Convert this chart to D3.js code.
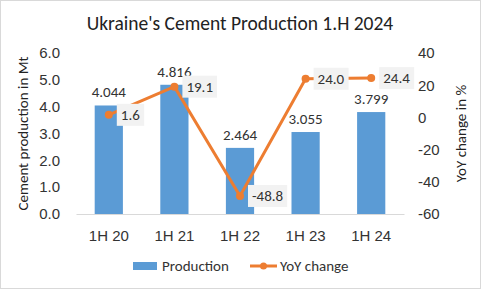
<!DOCTYPE html>
<html>
<head>
<meta charset="utf-8">
<script src="https://cdn.jsdelivr.net/npm/d3@7"></script>
<style>
  body { margin: 0; background: #fff; }
  svg { font-family: Carlito, Calibri, "Open Sans", sans-serif; }
</style>
</head>
<body>
<div id="chart"></div>
<script>
// Data
var categories = ["1H 20", "1H 21", "1H 22", "1H 23", "1H 24"];
var production = [4.044, 4.816, 2.464, 3.055, 3.799];
var yoyChange = [1.6, 19.1, -48.8, 24.0, 24.4];
var leftTicks = [0, 1, 2, 3, 4, 5, 6];
var rightTicks = [-60, -40, -20, 0, 20, 40];

var width = 481, height = 289;
var blue = "#5b9bd5", orange = "#ed7d31";
var plot = { left: 76, right: 404, top: 53, bottom: 214 };
var fs = 15;

// plain hyphen for negatives, like the original
var locale = d3.formatLocale({ decimal: ".", thousands: ",", grouping: [3], currency: ["", ""], minus: "-" });

var svg = d3.select("#chart").append("svg")
  .attr("width", width)
  .attr("height", height);

// chart border
svg.append("rect")
  .attr("x", 0.5).attr("y", 0.5)
  .attr("width", width - 1).attr("height", height - 1)
  .attr("fill", "#fff").attr("stroke", "#d9d9d9");

// Scales
var x = d3.scaleBand()
  .domain(categories)
  .range([plot.left, plot.right])
  .paddingInner(0.57)
  .paddingOuter(0.285);

var yLeft = d3.scaleLinear().domain([0, 6]).range([plot.bottom, plot.top]);
var yRight = d3.scaleLinear().domain([-60, 40]).range([plot.bottom, plot.top]);

// title
svg.append("text")
  .attr("x", 240).attr("y", 30)
  .attr("text-anchor", "middle")
  .attr("font-size", 19.5)
  .attr("fill", "#222")
  .text("Ukraine's Cement Production 1.H 2024");

// left axis
var leftAxis = svg.append("g")
  .attr("transform", "translate(" + plot.left + ",0)")
  .call(d3.axisLeft(yLeft).tickValues(leftTicks).tickFormat(locale.format(".1f")).tickSize(0).tickPadding(16));
leftAxis.select(".domain").remove();

// right axis
var rightAxis = svg.append("g")
  .attr("transform", "translate(" + plot.right + ",0)")
  .call(d3.axisRight(yRight).tickValues(rightTicks).tickFormat(locale.format("d")).tickSize(0).tickPadding(14));
rightAxis.select(".domain").remove();

// x axis
var xAxis = svg.append("g")
  .attr("transform", "translate(0," + plot.bottom + ")")
  .call(d3.axisBottom(x).tickSize(0).tickPadding(16));
xAxis.select(".domain").attr("stroke", "#d9d9d9");

svg.selectAll(".tick text")
  .attr("font-size", fs)
  .attr("fill", "#333")
  .attr("font-family", null);

// axis titles
svg.append("text")
  .attr("transform", "translate(28," + (plot.top + plot.bottom) / 2 + ") rotate(-90)")
  .attr("text-anchor", "middle")
  .attr("font-size", fs)
  .attr("fill", "#222")
  .text("Cement production in Mt");

svg.append("text")
  .attr("transform", "translate(466," + (plot.top + plot.bottom) / 2 + ") rotate(-90)")
  .attr("text-anchor", "middle")
  .attr("font-size", fs)
  .attr("fill", "#222")
  .text("YoY change in %");

// bars
svg.selectAll(".bar")
  .data(production)
  .enter().append("rect")
  .attr("class", "bar")
  .attr("x", (d, i) => x(categories[i]))
  .attr("y", d => yLeft(d))
  .attr("width", x.bandwidth())
  .attr("height", d => yLeft(0) - yLeft(d))
  .attr("fill", blue);

svg.selectAll(".barLabel")
  .data(production)
  .enter().append("text")
  .attr("class", "barLabel")
  .attr("x", (d, i) => x(categories[i]) + x.bandwidth() / 2)
  .attr("y", d => yLeft(d) - 8)
  .attr("text-anchor", "middle")
  .attr("font-size", fs)
  .attr("fill", "#333")
  .text(locale.format(".3f"));

// line
var cx = (d, i) => x(categories[i]) + x.bandwidth() / 2;
var line = d3.line()
  .x(cx)
  .y(d => yRight(d));

svg.append("path")
  .datum(yoyChange)
  .attr("d", line)
  .attr("fill", "none")
  .attr("stroke", orange)
  .attr("stroke-width", 3);

svg.selectAll(".pt")
  .data(yoyChange)
  .enter().append("circle")
  .attr("class", "pt")
  .attr("cx", cx)
  .attr("cy", d => yRight(d))
  .attr("r", 4)
  .attr("fill", orange);

// line labels with grey background
var lbl = svg.selectAll(".lineLabel")
  .data(yoyChange)
  .enter().append("g")
  .attr("class", "lineLabel")
  .attr("transform", (d, i) => "translate(" + (cx(d, i) + 8) + "," + yRight(d) + ")");

lbl.append("text")
  .attr("x", 4)
  .attr("y", 5)
  .attr("font-size", fs)
  .attr("fill", "#333")
  .text(locale.format(".1f"));

lbl.each(function() {
  var g = d3.select(this);
  var b = g.select("text").node().getBBox();
  g.insert("rect", "text")
    .attr("x", 0)
    .attr("y", -11)
    .attr("width", b.width + 8)
    .attr("height", 22)
    .attr("fill", "#f2f2f2");
});

// legend
var legend = svg.append("g").attr("transform", "translate(0,266)");
legend.append("rect")
  .attr("x", 133).attr("y", -4)
  .attr("width", 24).attr("height", 8)
  .attr("fill", blue);
legend.append("text")
  .attr("x", 162).attr("y", 5)
  .attr("font-size", fs).attr("fill", "#333")
  .text("Production");
legend.append("line")
  .attr("x1", 250).attr("x2", 277)
  .attr("y1", 0).attr("y2", 0)
  .attr("stroke", orange).attr("stroke-width", 3);
legend.append("circle")
  .attr("cx", 263.5).attr("cy", 0).attr("r", 3.5)
  .attr("fill", orange);
legend.append("text")
  .attr("x", 280).attr("y", 5)
  .attr("font-size", fs).attr("fill", "#333")
  .text("YoY change");
</script>
</body>
</html>
